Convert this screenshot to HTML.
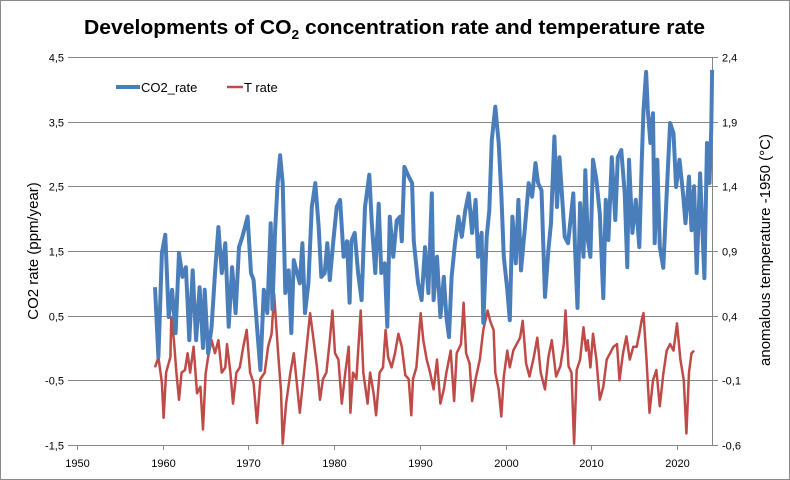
<!DOCTYPE html>
<html><head><meta charset="utf-8">
<style>
html,body{margin:0;padding:0;background:#fff;}
svg{display:block;font-family:"Liberation Sans",sans-serif;}
</style></head>
<body>
<svg id="chart" width="790" height="480" viewBox="0 0 790 480" xmlns="http://www.w3.org/2000/svg">
<rect x="0.5" y="0.5" width="789" height="479" fill="#fff" stroke="#8a8a8a"/>
<text x="84" y="34" font-size="20" font-weight="bold" fill="#000" textLength="621" lengthAdjust="spacingAndGlyphs">Developments of CO<tspan font-size="13" dy="5">2</tspan><tspan dy="-5"> concentration rate and temperature rate</tspan></text>
<g id="grid"></g>
<g id="axes"></g>
<g id="series"></g>
<g>
<line x1="116" y1="87" x2="140" y2="87" stroke="#4a7ebb" stroke-width="4"/>
<text x="141" y="92" font-size="13" fill="#000">CO2_rate</text>
<line x1="227" y1="87" x2="243" y2="87" stroke="#be4b48" stroke-width="2.5"/>
<text x="244" y="92" font-size="13" fill="#000">T rate</text>
</g>
<text transform="translate(38,251) rotate(-90)" text-anchor="middle" font-size="15" fill="#000">CO2 rate (ppm/year)</text>
<text transform="translate(770,250) rotate(-90)" text-anchor="middle" font-size="15" fill="#000">anomalous temperature -1950 (°C)</text>
</svg>
<script>
const xTickYears = [1950,1960,1970,1980,1990,2000,2010,2020];
const leftTicks = [4.5,3.5,2.5,1.5,0.5,-0.5,-1.5];
const leftTickLabels = ["4,5","3,5","2,5","1,5","0,5","-0,5","-1,5"];
const rightTickLabels = ["2,4","1,9","1,4","0,9","0,4","-0,1","-0,6"];

const co2Years = [1959.1,1959.5,1959.9,1960.3,1960.7,1961.1,1961.5,1961.9,1962.3,1962.7,1963.1,1963.5,1963.9,1964.3,1964.7,1964.9,1965.3,1965.7,1966.1,1966.5,1966.9,1967.3,1967.7,1968.1,1968.5,1968.9,1969.3,1969.9,1970.3,1970.6,1971.0,1971.4,1971.8,1972.2,1972.6,1972.8,1973.1,1973.4,1973.7,1974.0,1974.3,1974.7,1975.0,1975.3,1975.6,1976.0,1976.3,1976.6,1977.0,1977.4,1977.8,1978.2,1978.5,1978.9,1979.2,1979.5,1979.9,1980.3,1980.7,1981.1,1981.5,1981.8,1982.0,1982.4,1982.8,1983.2,1983.6,1984.1,1984.4,1984.8,1985.2,1985.5,1985.9,1986.2,1986.5,1986.9,1987.3,1987.7,1987.9,1988.2,1988.7,1989.1,1989.3,1989.8,1990.2,1990.6,1991.0,1991.4,1991.6,1992.0,1992.4,1992.8,1993.1,1993.4,1993.7,1994.1,1994.5,1994.9,1995.3,1995.7,1996.1,1996.5,1996.8,1997.2,1997.4,1997.8,1998.1,1998.4,1998.8,1999.2,1999.5,1999.8,2000.2,2000.5,2000.8,2001.2,2001.5,2001.8,2002.3,2002.7,2003.1,2003.5,2003.8,2004.2,2004.6,2005.0,2005.3,2005.7,2006.0,2006.3,2006.6,2006.9,2007.3,2007.9,2008.1,2008.4,2008.7,2009.1,2009.3,2009.6,2009.9,2010.2,2010.6,2011.0,2011.4,2011.7,2012.0,2012.4,2012.8,2013.1,2013.5,2013.9,2014.2,2014.4,2014.8,2015.2,2015.6,2015.9,2016.1,2016.4,2016.6,2016.9,2017.2,2017.4,2017.7,2018.0,2018.4,2018.8,2019.2,2019.6,2019.9,2020.3,2020.7,2021.0,2021.4,2021.7,2022.0,2022.3,2022.7,2023.2,2023.5,2023.8,2024.0,2024.1];
const co2Values = [0.94,-0.14,1.47,1.75,0.48,0.9,0.23,1.47,1.1,1.25,0.12,1.2,0.12,0.94,0.0,0.9,-0.08,0.33,1.16,1.87,1.16,1.62,0.33,1.25,0.54,1.56,1.72,2.03,1.16,1.05,0.33,-0.34,0.9,0.54,1.93,0.6,1.78,2.55,2.98,2.55,0.85,1.2,0.23,1.36,1.2,1.0,1.62,0.54,1.0,2.18,2.55,1.87,1.1,1.16,1.62,1.05,1.65,2.18,2.29,1.41,1.65,0.7,1.65,1.78,1.16,0.74,2.18,2.68,1.93,1.16,2.23,1.16,1.31,0.33,2.03,1.41,1.97,2.03,1.65,2.8,2.65,2.55,1.65,1.0,0.74,1.56,0.85,2.39,0.74,1.41,0.48,1.1,0.48,0.17,1.1,1.62,2.03,1.72,2.13,2.39,1.78,2.29,1.41,1.78,0.39,1.72,2.13,3.22,3.73,3.17,2.39,1.41,0.9,0.43,2.03,1.31,2.29,1.2,1.93,2.55,2.34,2.86,2.55,2.44,0.79,1.52,1.93,3.27,2.18,2.95,2.34,1.72,1.62,2.39,1.56,0.62,2.24,1.41,2.75,1.67,1.41,2.91,2.6,2.08,0.77,2.29,1.67,2.95,1.98,2.95,3.06,2.39,1.25,2.91,1.78,2.29,1.56,2.91,3.68,4.27,3.68,3.17,3.63,1.62,2.91,1.56,1.24,2.39,3.48,3.32,2.49,2.91,2.39,1.93,2.65,1.82,2.5,1.16,2.7,1.08,3.17,2.55,3.42,4.3];

const tYears = [1959.1,1959.5,1959.9,1960.1,1960.4,1960.9,1961.0,1961.3,1961.6,1961.9,1962.2,1962.6,1962.9,1963.2,1963.6,1964.0,1964.4,1964.7,1965.0,1965.3,1965.7,1966.1,1966.5,1966.9,1967.3,1967.5,1967.9,1968.2,1968.6,1969.0,1969.4,1969.8,1970.2,1970.6,1971.0,1971.4,1971.9,1972.3,1972.7,1973.0,1973.5,1973.8,1974.0,1974.4,1974.9,1975.3,1975.6,1976.0,1976.4,1976.8,1977.2,1977.6,1978.0,1978.35,1978.7,1979.1,1979.5,1979.8,1980.1,1980.5,1980.9,1981.3,1981.7,1981.9,1982.2,1982.6,1983.1,1983.4,1983.9,1984.2,1984.6,1984.9,1985.3,1985.7,1986.0,1986.3,1986.7,1987.1,1987.5,1987.9,1988.3,1988.7,1989.0,1989.2,1989.6,1990.1,1990.4,1990.8,1991.2,1991.6,1992.0,1992.4,1992.8,1993.1,1993.6,1994.0,1994.3,1994.8,1995.1,1995.4,1995.8,1996.1,1996.5,1997.0,1997.4,1997.9,1998.2,1998.6,1998.8,1999.2,1999.5,1999.8,2000.2,2000.5,2000.9,2001.3,2001.7,2002.0,2002.4,2002.8,2003.3,2003.7,2004.1,2004.6,2005.0,2005.4,2005.9,2006.4,2006.8,2007.0,2007.35,2007.7,2008.0,2008.3,2008.7,2009.1,2009.4,2009.6,2009.9,2010.2,2010.6,2011.0,2011.4,2011.8,2012.2,2012.6,2013.0,2013.3,2013.7,2014.1,2014.5,2014.9,2015.3,2015.6,2015.9,2016.1,2016.45,2016.8,2017.2,2017.6,2018.0,2018.4,2018.8,2019.2,2019.6,2020.0,2020.4,2020.8,2021.1,2021.4,2021.7,2022.0];
const tValues = [0.0,0.08,-0.12,-0.39,-0.04,0.08,0.39,0.21,-0.04,-0.25,-0.04,-0.02,0.11,-0.04,0.16,-0.2,-0.15,-0.48,-0.05,0.08,0.21,0.11,0.21,-0.04,0.0,0.18,-0.04,-0.28,-0.04,0.0,0.16,0.29,-0.04,-0.12,-0.43,-0.09,-0.04,0.16,0.26,0.57,0.08,-0.18,-0.59,-0.28,-0.04,0.11,-0.09,-0.35,-0.09,0.16,0.42,0.21,0.0,-0.25,-0.09,-0.04,0.21,0.44,0.11,0.06,-0.28,-0.04,0.16,-0.35,-0.04,-0.09,0.44,-0.04,-0.28,-0.04,-0.2,-0.37,-0.04,0.0,0.29,0.08,0.0,0.11,0.26,0.16,-0.06,-0.09,-0.37,-0.09,0.0,0.42,0.21,0.06,-0.04,-0.17,0.06,-0.28,-0.17,-0.04,0.13,-0.26,0.11,0.18,0.5,0.11,0.03,-0.26,-0.09,0.06,0.29,0.44,0.36,0.29,-0.04,-0.17,-0.38,-0.07,0.13,0.0,0.13,0.18,0.23,0.36,0.03,-0.07,0.08,0.23,-0.04,-0.17,0.08,0.21,-0.07,0.01,0.18,0.44,0.01,-0.04,-0.59,-0.02,0.06,0.31,0.13,0.21,0.0,0.26,0.06,-0.25,-0.15,0.06,0.11,0.16,0.18,-0.1,0.11,0.24,0.06,0.16,0.16,0.26,0.37,0.42,0.06,-0.35,-0.1,-0.02,-0.3,-0.05,0.13,0.18,0.13,0.34,0.06,-0.1,-0.51,-0.04,0.11,0.13];

const NS = "http://www.w3.org/2000/svg";
const PL = 74, PR = 712, PT = 57, PB = 445;
function xScale(yr){ return 77 + (yr - 1950) * 85.71 / 10; }
function yLeft(v){ return PT + (4.5 - v) * (PB - PT) / 6; }
function yRight(v){ return PT + (2.4 - v) * (PB - PT) / 3; }
function mk(tag, attrs, parent){
  const e = document.createElementNS(NS, tag);
  for (const k in attrs) e.setAttribute(k, attrs[k]);
  parent.appendChild(e);
  return e;
}
const grid = document.getElementById('grid');
const axes = document.getElementById('axes');
const series = document.getElementById('series');

leftTicks.forEach((v, i) => {
  const y = Math.round(yLeft(v)) + 0.5;
  const g = mk('line', {x1: PL - 6, y1: y, x2: PR + 6, y2: y, stroke: '#868686', 'stroke-width': 1}, grid);
  
  
  const lt = mk('text', {x: 64, y: y + 4, 'text-anchor': 'end', 'font-size': 11, fill: '#000'}, axes);
  lt.textContent = leftTickLabels[i];
  
  
  const rt = mk('text', {x: 722, y: y + 4, 'font-size': 11, fill: '#000'}, axes);
  rt.textContent = rightTickLabels[i];
  
  
});
const ra = mk('line', {x1: PR + 0.5, y1: PT, x2: PR + 0.5, y2: PB + 1, stroke: '#868686', 'stroke-width': 1}, axes);



xTickYears.forEach(yr => {
  const x = Math.round(xScale(yr)) + 0.5;
  const t = mk('line', {x1: x, y1: PB, x2: x, y2: PB + 5, stroke: '#868686', 'stroke-width': 1}, axes);
  
  
  const l = mk('text', {x: x, y: 467, 'text-anchor': 'middle', 'font-size': 11, fill: '#000'}, axes);
  l.textContent = yr;
  
  
});

function pathFrom(xs, vs, ys){
  return xs.map((yr, i) => (i ? 'L' : 'M') + xScale(yr).toFixed(1) + ' ' + ys(vs[i]).toFixed(1)).join(' ');
}
const pT = mk('path', {d: pathFrom(tYears, tValues, yRight), fill: 'none', stroke: '#be4b48', 'stroke-width': 2.5, 'stroke-linejoin': 'round'}, series);


const pC = mk('path', {d: pathFrom(co2Years, co2Values, yLeft), fill: 'none', stroke: '#4a7ebb', 'stroke-width': 4, 'stroke-linejoin': 'round'}, series);


</script>
</body></html>
